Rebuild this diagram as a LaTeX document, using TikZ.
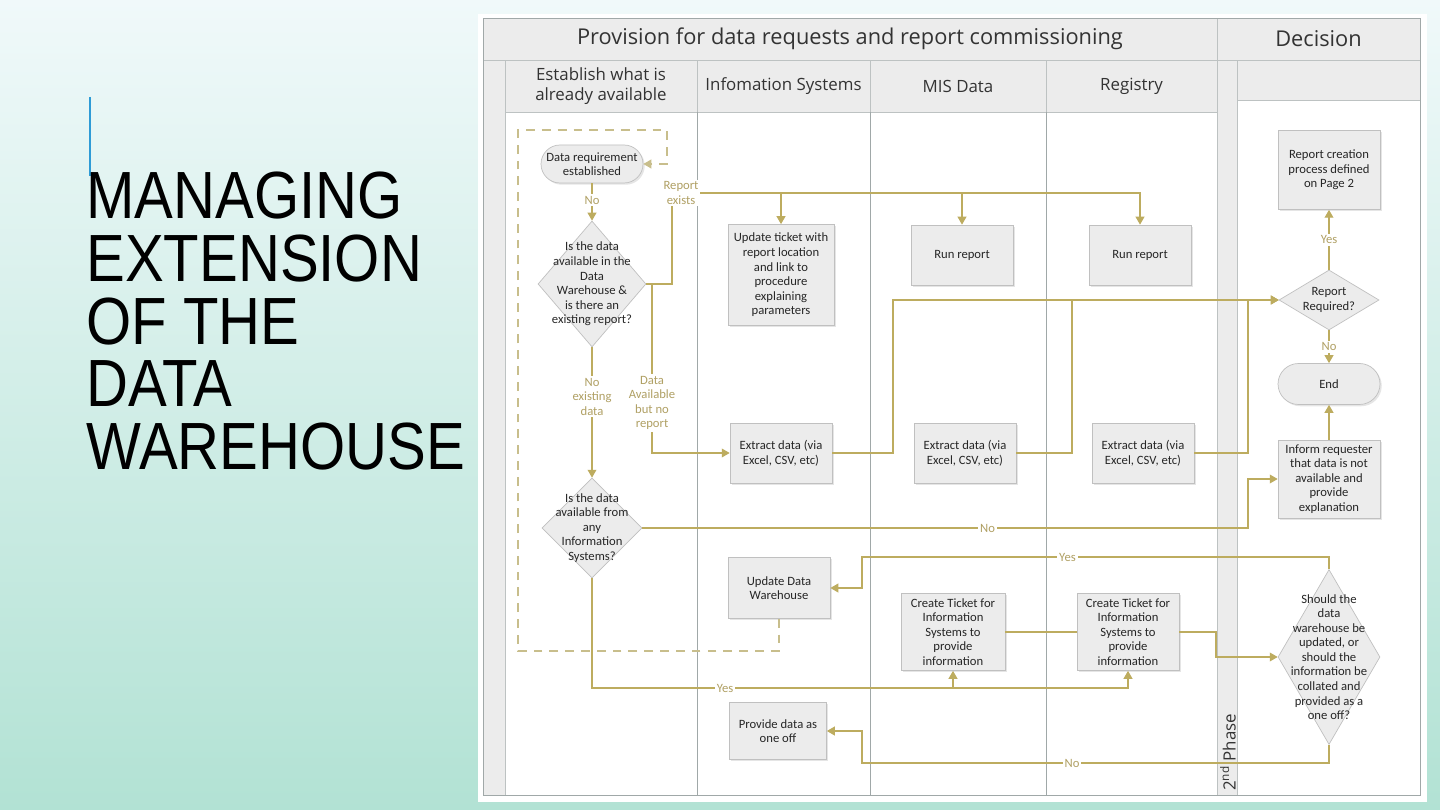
\documentclass[tikz,border=0pt]{standalone}
\usepackage{fontspec}
\setmainfont{Carlito}
\newfontfamily\headfont{Open Sans}
\newfontfamily\titlefont[FakeStretch=0.87]{Liberation Sans}
\usetikzlibrary{shapes.geometric,arrows.meta,shadows}

\definecolor{bgtop}{RGB}{240,249,250}
\definecolor{bgbot}{RGB}{178,226,212}
\definecolor{flowc}{RGB}{189,172,95}
\definecolor{lblc}{RGB}{176,160,100}
\definecolor{dashc}{RGB}{200,190,140}
\definecolor{boxc}{RGB}{236,236,236}
\definecolor{edgec}{RGB}{192,192,192}
\definecolor{lanec}{RGB}{160,168,168}
\definecolor{accent}{RGB}{46,155,214}

\tikzset{
  proc/.style={rectangle, draw=edgec, fill=boxc, align=center, text=black!85,
    font=\fontsize{7.2}{8.3}\selectfont, inner sep=1pt,
    drop shadow={shadow xshift=1pt, shadow yshift=-1pt, opacity=0.2}},
  term/.style={proc, rounded corners=0.38cm},
  dec/.style={diamond, draw=edgec, fill=boxc, inner sep=0pt},
  dectext/.style={align=center, text=black!85, font=\fontsize{7.2}{8.3}\selectfont},
  flow/.style={draw=flowc, line width=0.7pt, -{Triangle[length=4.5pt,width=5pt]}},
  link/.style={draw=flowc, line width=0.7pt},
  dashflow/.style={draw=dashc, line width=0.7pt, dash pattern=on 5pt off 4pt,
    -{Triangle[length=4.5pt,width=5pt]}},
  elbl/.style={fill=white, text=lblc, align=center, inner sep=1pt,
    font=\fontsize{7.2}{8.3}\selectfont},
  lanehd/.style={draw=lanec!70, fill=boxc, text=black!80},
  lane/.style={draw=lanec, line width=0.5pt},
}

\begin{document}
\begin{tikzpicture}[x=0.02cm,y=-0.02cm]
  \useasboundingbox (0,0) rectangle (1440,810);
  \shade[top color=bgtop, bottom color=bgbot] (0,0) rectangle (1440,810);

  % title
  \draw[accent, line width=1.2pt] (90,97) -- (90,176);
  \node[anchor=north west, align=left, inner sep=0pt,
    font=\titlefont\fontsize{38}{35.6}\selectfont] (title) at (86,172)
    {MANAGING\\EXTENSION\\OF THE\\DATA\\WAREHOUSE};

  % swimlanes
  \fill[white] (478,14) rectangle (1427,802);
  \draw[lanehd] (483,18) rectangle node[font=\headfont\fontsize{12.4}{14}\selectfont]
    {Provision for data requests and report commissioning} (1217,60);
  \draw[lanehd] (1217,18) rectangle node[font=\headfont\fontsize{12.4}{14}\selectfont]
    {Decision} (1420,60);
  \foreach \xa/\xb/\t in {505/697/{Establish what is\\already available},
      697/870/{Infomation Systems}, 870/1046/{MIS Data}, 1046/1217/{Registry}}{
    \draw[lanehd] (\xa,60) rectangle
      node[align=center, font=\headfont\fontsize{9.6}{11}\selectfont]{\t} (\xb,112);
  }
  \draw[lanehd] (1237,60) rectangle (1420,100);
  \draw[lanehd] (483,60) rectangle (505,795);
  \draw[lanehd] (1217,60) rectangle (1237,795);
  \foreach \x in {697,870,1046}
    \draw[lane] (\x,112) -- (\x,795);
  \draw[lane] (483,18) rectangle (1420,795);
  \node[rotate=90, anchor=west, inner sep=0pt, text=black!80,
    font=\headfont\fontsize{9.6}{11}\selectfont] (phase) at (1228,791)
    {2\textsuperscript{nd} Phase};

  % nodes
  \node[term, minimum width=2.04cm, minimum height=0.76cm] (req) at (592,164)
    {Data requirement\\established};
  \node[dec, minimum width=2.16cm, minimum height=2.52cm,
    label={[dectext]center:{Is the data\\available in the\\Data\\Warehouse \&\\is there an\\existing report?}}]
    (d1) at (592,284) {};
  \node[dec, minimum width=2cm, minimum height=2cm,
    label={[dectext]center:{Is the data\\available from\\any\\Information\\Systems?}}]
    (d2) at (592,528) {};

  \node[proc, minimum width=2.12cm, minimum height=2.02cm] (upd) at (781,275)
    {Update ticket with\\report location\\and link to\\procedure\\explaining\\parameters};
  \node[proc, minimum width=2.04cm, minimum height=1.2cm] (run1) at (962,255) {Run report};
  \node[proc, minimum width=2.04cm, minimum height=1.2cm] (run2) at (1140,255) {Run report};

  \node[proc, minimum width=2.04cm, minimum height=1.2cm] (ext1) at (781,453)
    {Extract data (via\\Excel, CSV, etc)};
  \node[proc, minimum width=2.04cm, minimum height=1.2cm] (ext2) at (965,453)
    {Extract data (via\\Excel, CSV, etc)};
  \node[proc, minimum width=2.04cm, minimum height=1.2cm] (ext3) at (1143,453)
    {Extract data (via\\Excel, CSV, etc)};

  \node[proc, minimum width=2.04cm, minimum height=1.22cm] (udw) at (779,588)
    {Update Data\\Warehouse};
  \node[proc, minimum width=2.08cm, minimum height=1.54cm] (cr1) at (953,632)
    {Create Ticket for\\Information\\Systems to\\provide\\information};
  \node[proc, minimum width=2.04cm, minimum height=1.54cm] (cr2) at (1128,632)
    {Create Ticket for\\Information\\Systems to\\provide\\information};
  \node[proc, minimum width=1.94cm, minimum height=1.14cm] (one) at (778,731)
    {Provide data as\\one off};

  \node[proc, minimum width=2.04cm, minimum height=1.58cm] (rep) at (1329,170)
    {Report creation\\process defined\\on Page 2};
  \node[dec, minimum width=2cm, minimum height=1.2cm,
    label={[dectext]center:{Report\\Required?}}] (rr) at (1329,300) {};
  \node[proc, rounded corners=0.41cm, minimum width=2.04cm, minimum height=0.82cm]
    (end) at (1329,384) {End};
  \node[proc, minimum width=2.04cm, minimum height=1.56cm] (inf) at (1329,479)
    {Inform requester\\that data is not\\available and\\provide\\explanation};
  \node[dec, minimum width=2.04cm, minimum height=3.5cm,
    label={[dectext]center:{Should the\\data\\warehouse be\\updated, or\\should the\\information be\\collated and\\provided as a\\one off?}}]
    (sh) at (1329,657) {};

  % turning points
  \coordinate (re) at (672,193);
  \coordinate (dab) at (652,453);
  \coordinate (nob) at (1248,528);
  \coordinate (yb) at (592,688);
  \coordinate (cb) at (1216,632);
  \coordinate (ya) at (1329,557);
  \coordinate (yc) at (862,557);
  \coordinate (na) at (1329,763);
  \coordinate (nc) at (862,763);
  \coordinate (e1c) at (893,453);
  \coordinate (e2c) at (1072,453);
  \coordinate (e3c) at (1248,453);
  \coordinate (dw1) at (779,651);
  \coordinate (dw2) at (518,651);
  \coordinate (dw3) at (518,130);
  \coordinate (dw4) at (667,130);

  % connectors
  \draw[dashflow] (udw.south) -- (dw1) -- (dw2) -- (dw3) -- (dw4) |- (req.east);
  \draw[flow] (req) -- node[elbl, pos=0.45]{No} (d1);
  \draw[flow] (d1.east) -| (re) -| (upd.north);
  \draw[flow] (re) -| (run1.north);
  \draw[flow] (re) -| (run2.north);
  \node[elbl] (lre) at (681,193) {Report\\exists};
  \draw[flow] (d1.east) -| (dab) -- (ext1.west);
  \node[elbl] (lda) at (652,403) {Data\\Available\\but no\\report};
  \draw[flow] (d1.south) -- node[elbl, pos=0.38]{No\\existing\\data} (d2.north);
  \draw[flow] (d2.east) -- node[elbl, pos=0.57]{No} (nob) |- (inf.west);
  \draw[flow] (d2.south) -- (yb) -| (cr2.south);
  \draw[flow] (yb) -| (cr1.south);
  \node[elbl] (lyes) at (725,688) {Yes};
  \draw[link] (cr1.east) -- (cr2.west);
  \draw[flow] (cr2.east) -- (cb) |- (sh.west);
  \draw[flow] (sh.north) -- (ya) -- node[elbl, pos=0.56]{Yes} (yc) |- (udw.east);
  \draw[flow] (sh.south) -- (na) -- node[elbl, pos=0.55]{No} (nc) |- (one.east);
  \draw[flow] (ext1.east) -- (e1c) |- (rr.west);
  \draw[flow] (ext2.east) -- (e2c) |- (rr.west);
  \draw[flow] (ext3.east) -- (e3c) |- (rr.west);
  \draw[flow] (rr.north) -- node[elbl]{Yes} (rep.south);
  \draw[flow] (rr.south) -- node[elbl]{No} (end.north);
  \draw[flow] (inf.north) -- (end.south);
\end{tikzpicture}
\end{document}
